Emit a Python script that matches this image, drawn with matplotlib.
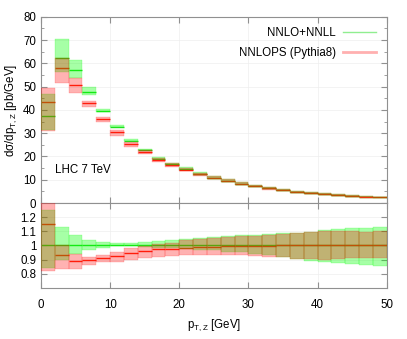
import numpy as np
import matplotlib
matplotlib.use("Agg")
import matplotlib.pyplot as plt
from matplotlib.lines import Line2D

plt.rcParams["font.family"] = ["Liberation Sans", "DejaVu Sans"]
plt.rcParams["mathtext.fontset"] = "custom"
plt.rcParams["mathtext.rm"] = "Liberation Sans"
plt.rcParams["mathtext.default"] = "regular"
plt.rcParams["font.size"] = 8.3

# bin edges in pT,Z [GeV]
edges = np.arange(0, 52, 2)

# NNLO+NNLL central value [pb/GeV]
nnll = [37.5, 62.3, 57.0, 47.8, 39.5, 32.8, 26.8, 22.9, 19.1, 16.8,
        14.6, 12.5, 10.9, 9.6, 8.4, 7.3, 6.3, 5.6, 4.9, 4.3,
        3.9, 3.5, 3.1, 2.8, 2.5]
# NNLO+NNLL band, relative to its central value
nnll_up = [1.25, 1.13, 1.077, 1.04, 1.025, 1.02, 1.02, 1.023, 1.03, 1.037,
           1.047, 1.052, 1.059, 1.066, 1.073, 1.075, 1.08, 1.085, 1.09, 1.095,
           1.106, 1.113, 1.12, 1.124, 1.129]
nnll_dn = [0.84, 0.90, 0.94, 0.97, 0.985, 0.995, 0.995, 0.99, 0.985, 0.98,
           0.975, 0.97, 0.965, 0.955, 0.95, 0.94, 0.93, 0.92, 0.905, 0.89,
           0.88, 0.873, 0.866, 0.859, 0.857]
# NNLOPS (Pythia8) relative to NNLO+NNLL central value
nnlops = [1.155, 0.93, 0.89, 0.90, 0.91, 0.925, 0.948, 0.958, 0.972, 0.977,
          0.983, 0.988, 0.988, 0.995, 0.993, 0.995, 0.998, 1.0, 1.0, 1.0,
          1.0, 1.0, 1.0, 1.0, 1.0]
nnlops_up = [1.32, 1.0, 0.94, 0.92, 0.935, 0.955, 0.98, 0.995, 1.01, 1.02,
             1.035, 1.045, 1.05, 1.06, 1.065, 1.07, 1.075, 1.08, 1.09, 1.095,
             1.10, 1.10, 1.105, 1.094, 1.10]
nnlops_dn = [0.82, 0.83, 0.83, 0.86, 0.885, 0.88, 0.90, 0.913, 0.92, 0.925,
             0.93, 0.932, 0.934, 0.935, 0.93, 0.925, 0.92, 0.915, 0.905, 0.905,
             0.90, 0.905, 0.908, 0.913, 0.913]

nnll = np.array(nnll)
lo_x, hi_x = edges[:-1], edges[1:]

GREEN_FILL = (0.0, 1.0, 0.0)
RED_FILL = (1.0, 0.0, 0.0)


def draw(ax, scale):
    g_c = np.ones_like(nnll) * scale
    g_lo = np.array(nnll_dn) * scale
    g_hi = np.array(nnll_up) * scale
    r_c = np.array(nnlops) * scale
    r_lo = np.array(nnlops_dn) * scale
    r_hi = np.array(nnlops_up) * scale
    # central lines first, fills on top (gnuplot-like transparency look)
    ax.hlines(g_c, lo_x, hi_x, color="#20e020", lw=1.0, zorder=2)
    ax.hlines(r_c, lo_x, hi_x, color="#ff2a10", lw=1.0, zorder=2)
    ax.bar(lo_x, g_hi - g_lo, bottom=g_lo, width=2, align="edge",
           color=GREEN_FILL, alpha=0.35, edgecolor=GREEN_FILL, lw=0.35, zorder=3)
    ax.bar(lo_x, r_hi - r_lo, bottom=r_lo, width=2, align="edge",
           color=RED_FILL, alpha=0.30, edgecolor=RED_FILL, lw=0.35, zorder=4)


fig = plt.figure(figsize=(4.07, 3.39), dpi=100)
ax1 = fig.add_axes([0.1007, 0.4009, 0.8494, 0.5498])
ax2 = fig.add_axes([0.1007, 0.1513, 0.8494, 0.2496])

draw(ax1, nnll)
draw(ax2, np.ones_like(nnll))

for ax in (ax1, ax2):
    ax.set_xlim(0, 50)
    ax.set_xticks([0, 10, 20, 30, 40, 50])
    ax.tick_params(which="both", direction="in", top=True, right=True,
                   color="#909090", labelsize=8.3)
    ax.tick_params(which="major", length=4)
    ax.tick_params(which="minor", length=2)
    ax.grid(True, color="#eeeeee", lw=0.5, zorder=0)
    ax.set_axisbelow(True)
    for s in ax.spines.values():
        s.set_color("#909090")
        s.set_linewidth(0.8)

ax1.set_ylim(0, 80)
ax1.set_yticks(np.arange(0, 81, 10))
ax1.set_yticks(np.arange(0, 81, 5), minor=True)
ax1.tick_params(axis="x", labelbottom=False)
ax1.set_ylabel("dσ/dp$_{T,Z}$ [pb/GeV]", fontsize=8.3, labelpad=3)
ax1.text(2.0, 14, "LHC 7 TeV", fontsize=8.3, va="center", ha="left")

handles = [Line2D([], [], color="#90ee90", lw=1.0),
           Line2D([], [], color="#ffb0b0", lw=2.0)]
ax1.legend(handles, ["NNLO+NNLL", "NNLOPS (Pythia8)"], loc="upper right",
           frameon=False, markerfirst=False, handlelength=2.9,
           fontsize=8.3, borderaxespad=0.5, labelspacing=0.65,
           handletextpad=0.6)

ax2.set_ylim(0.7, 1.3)
ax2.set_yticks([0.8, 0.9, 1.0, 1.1, 1.2])
ax2.set_yticklabels(["0.8", "0.9", "1", "1.1", "1.2"])
ax2.set_xlabel("p$_{T,Z}$ [GeV]", fontsize=8.3, labelpad=5)
ax2.tick_params(axis="x", pad=8)

fig.savefig("out.png", dpi=100)
